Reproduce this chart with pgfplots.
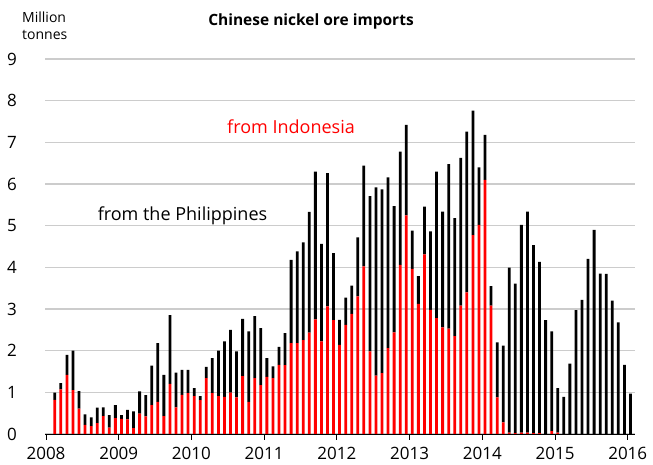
\documentclass[border=0pt]{standalone}
\usepackage{pgfplots}
\pgfplotsset{compat=1.18}
\usepackage{pgfplotstable}
\usepackage{fontspec}
\setmainfont{Open Sans}

% monthly imports, million tonnes: k = month index from Jan 2008
% ind = from Indonesia, phi = from the Philippines (stacked on top)
\pgfplotstableread{
k ind phi
1 0.82 0.17
2 1.07 0.15
3 1.42 0.48
4 1.05 0.95
5 0.61 0.42
6 0.22 0.25
7 0.19 0.21
8 0.26 0.37
9 0.43 0.21
10 0.15 0.30
11 0.38 0.31
12 0.36 0.09
13 0.35 0.23
14 0.14 0.40
15 0.49 0.53
16 0.42 0.51
17 0.69 0.95
18 0.77 1.41
19 0.43 0.99
20 1.20 1.65
21 0.64 0.83
22 0.94 0.60
23 0.98 0.56
24 0.91 0.19
25 0.81 0.10
26 1.34 0.27
27 0.98 0.84
28 0.91 1.09
29 0.89 1.33
30 0.99 1.51
31 0.88 1.10
32 1.39 1.37
33 0.77 1.69
34 1.34 1.49
35 1.17 1.37
36 1.37 0.45
37 1.34 0.28
38 1.66 0.43
39 1.65 0.77
40 2.18 2.00
41 2.18 2.20
42 2.25 2.35
43 2.43 2.90
44 2.75 3.55
45 2.22 2.34
46 3.06 3.20
47 2.73 1.61
48 2.14 0.60
49 2.62 0.65
50 2.88 0.68
51 3.30 1.42
52 4.02 2.42
53 1.98 3.73
54 1.40 4.52
55 1.46 4.41
56 2.06 4.10
57 2.44 3.03
58 4.06 2.72
59 5.25 2.17
60 3.96 0.92
61 3.12 0.67
62 4.31 1.15
63 2.98 1.88
64 2.78 3.52
65 2.56 2.78
66 2.53 3.95
67 2.35 2.83
68 3.08 3.55
69 3.40 3.86
70 4.77 2.99
71 5.02 1.38
72 6.10 1.08
73 3.08 0.47
74 0.88 1.32
75 0.28 1.84
76 0.03 3.96
77 0.02 3.59
78 0.03 4.99
79 0.03 5.31
80 0.02 4.51
81 0.02 4.11
82 0.00 2.73
83 0.07 2.39
84 0.03 1.07
85 0.00 0.89
86 0.00 1.69
87 0.00 2.97
88 0.00 3.22
89 0.00 4.20
90 0.00 4.90
91 0.00 3.85
92 0.00 3.84
93 0.00 3.20
94 0.00 2.68
95 0.00 1.66
96 0.00 0.97
}\imports

\begin{document}
\begin{tikzpicture}
\useasboundingbox (-45pt,-31pt) rectangle (608pt,434pt);
\begin{axis}[
  width=590pt, height=375pt, scale only axis,
  xmin=-0.165, xmax=97.2, ymin=0, ymax=9,
  ybar stacked, bar width=0.46,
  axis x line*=bottom, axis y line*=left,
  y axis line style={draw=none},
  x axis line style={black, line width=0.9pt},
  ytick={0,1,...,9}, ytick style={draw=none},
  xtick={0,12,...,96},
  xticklabels={2008,2009,2010,2011,2012,2013,2014,2015,2016},
  xtick style={black, line width=0.9pt},
  tick align=outside, major tick length=6pt,
  ymajorgrids, grid style={gray!40, line width=1.1pt},
  /pgf/number format/assume math mode=true,
  ticklabel style={font=\fontsize{17}{19}\selectfont},
  yticklabel style={anchor=east, inner sep=0pt, xshift=-22pt},
  xticklabel style={anchor=north, inner sep=0pt, yshift=-7pt},
  clip=false,
]
\addplot[fill=red, draw=none] table[x expr=\thisrow{k}+0.45, y=ind] {\imports};
\addplot[fill=black, draw=none] table[x expr=\thisrow{k}+0.45, y=phi] {\imports};
\end{axis}
\node[font=\bfseries\fontsize{15.5}{18}\selectfont] at (266pt,413pt) {Chinese nickel ore imports};
\node[anchor=north west, align=left, inner sep=0pt, font=\fontsize{14}{17}\selectfont] at (-23pt,422pt) {Million\\tonnes};
\node[text=red, font=\fontsize{18}{20}\selectfont] at (246pt,307pt) {from Indonesia};
\node[font=\fontsize{18}{20}\selectfont] at (137.5pt,218pt) {from the Philippines};
\end{tikzpicture}
\end{document}
